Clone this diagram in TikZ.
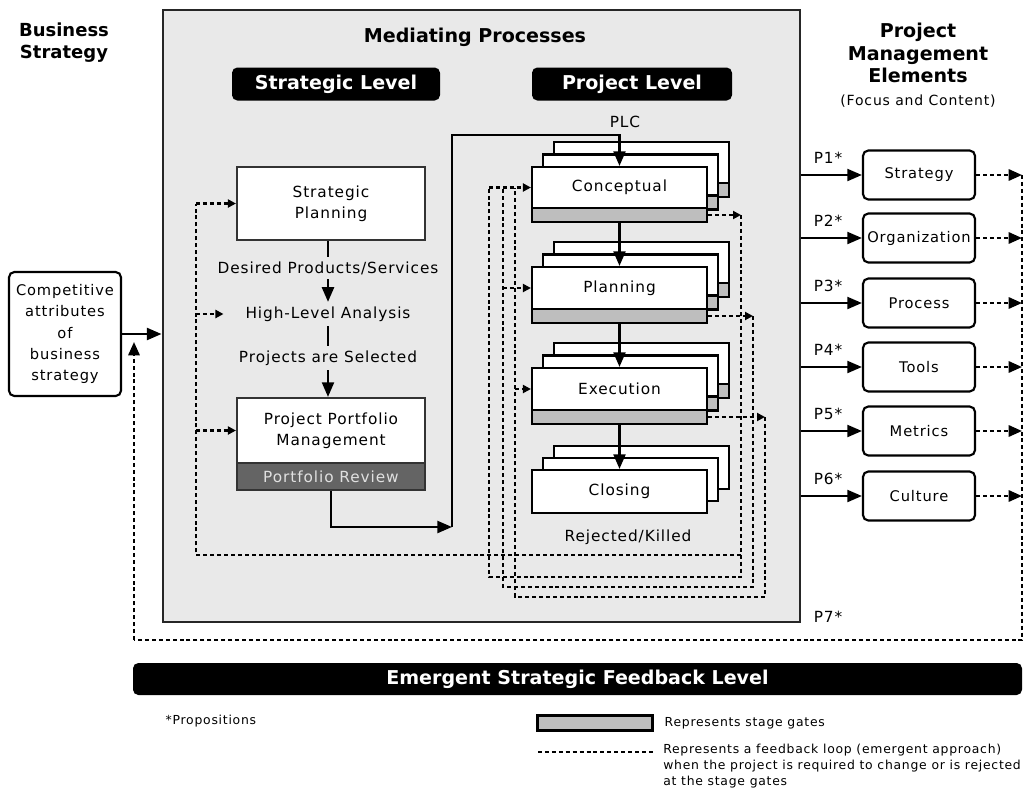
\documentclass[tikz,border=0pt]{standalone}
\usepackage{fontspec}
\setmainfont{DejaVu Sans}[LetterSpace=6]
\newfontfamily\hdfont{DejaVu Sans}
\usetikzlibrary{arrows.meta}
\newcommand\pxu{0.75pt}
\definecolor{medgray}{RGB}{233,233,233}
\definecolor{gategray}{RGB}{190,190,190}
\definecolor{darkband}{RGB}{100,100,100}
\begin{document}
\begin{tikzpicture}[x=0.75pt,y=-0.75pt,
  hd/.style={font=\hdfont\bfseries\fontsize{14.3}{17}\selectfont, align=center},
  txt/.style={font=\fontsize{11.5}{16}\selectfont, align=center},
  small/.style={font=\fontsize{9.3}{12}\selectfont, align=left},
  blackbar/.style={fill=black, rounded corners=4pt, text=white, inner sep=0pt,
    font=\hdfont\bfseries\fontsize{14.3}{17}\selectfont},
  wbox/.style={draw=black, fill=white, line width=1.6pt, inner sep=0pt},
  gate/.style={draw=black, fill=gategray, line width=1.6pt, inner sep=0pt},
  elem/.style={draw=black, fill=white, line width=1.6pt, rounded corners=4pt, inner sep=0pt,
    minimum width=112*\pxu, minimum height=49*\pxu, font=\fontsize{11}{13}\selectfont},
  arr/.style={line width=1.7pt, -{Triangle[length=11pt,width=9pt]}},
  sol/.style={line width=1.7pt},
  fb/.style={line width=1.6pt, dash pattern=on 3pt off 2.2pt},
  fbarr/.style={fb, -{Triangle[length=6pt,width=6pt]}},
  fbbig/.style={fb, -{Triangle[length=10pt,width=8.5pt]}},
]
\useasboundingbox (0,0) rectangle (1026,797);

% ---------- headings ----------
\node[hd, font=\hdfont\bfseries\fontsize{13.5}{16.5}\selectfont] (bs) at (64,43) {Business\\Strategy};
\node[hd] (pme) at (918,53) {Project\\Management\\Elements};
\node[txt, font=\fontsize{10.5}{13}\selectfont] (fc) at (918,101) {(Focus and Content)};

% ---------- main mediating box ----------
\node[draw=black!85, fill=medgray, line width=2.2pt, inner sep=0pt,
  minimum width=637*\pxu, minimum height=612*\pxu] (med) at (481.5,316) {};
\node[hd] (mp) at (475,37) {Mediating Processes};
\node[blackbar, minimum width=208*\pxu, minimum height=33*\pxu] (sl) at (336,84) {Strategic Level};
\node[blackbar, minimum width=200*\pxu, minimum height=33*\pxu] (pl) at (632,84) {Project Level};

% ---------- competitive attributes ----------
\node[draw=black, fill=white, line width=1.6pt, rounded corners=4pt, inner sep=0pt,
  minimum width=112*\pxu, minimum height=124*\pxu, align=center,
  font=\fontsize{11}{16}\selectfont] (comp) at (65,334)
  {Competitive\\attributes\\of\\business\\strategy};
\draw[arr] (comp.east) -- (comp.east -| med.west);

% ---------- strategic level ----------
\node[wbox, draw=black!80, minimum width=188*\pxu, minimum height=73*\pxu, txt] (sp) at (331,203.5) {Strategic\\Planning};
\node[txt] (dps) at (328,268) {Desired Products/Services};
\node[txt] (hla) at (328,314) {High-Level Analysis};
\node[txt] (pas) at (328,358) {Projects are Selected};
\node[wbox, draw=black!80, minimum width=188*\pxu, minimum height=65*\pxu, txt] (ppm) at (331,430.5) {Project Portfolio\\Management};
\node[wbox, draw=black!80, fill=darkband, text=black!12, minimum width=188*\pxu, minimum height=27*\pxu, txt] (ppr) at (331,476.5) {Portfolio Review};

\draw[sol] (sp.south -| dps) -- (dps.north);
\draw[arr] (dps.south) -- (hla.north);
\draw[sol] (hla.south) -- (pas.north);
\draw[arr] (pas.south) -- (pas.south |- ppm.north);

% ---------- project level stacks ----------
\foreach \T in {167,267,368}{
  \draw[line width=1.6pt, fill=white] (554,\T-25) rectangle (729,\T+30);
  \draw[line width=1.6pt, fill=gategray] (554,\T+16) rectangle (729,\T+30);
  \draw[line width=1.6pt, fill=white] (543,\T-12.5) rectangle (718,\T+42.5);
  \draw[line width=1.6pt, fill=gategray] (543,\T+28.5) rectangle (718,\T+42.5);
}
\draw[line width=1.6pt, fill=white] (554,446) rectangle (729,489);
\draw[line width=1.6pt, fill=white] (543,458) rectangle (718,501);

\node[wbox, minimum width=175*\pxu, minimum height=41*\pxu, txt] (conc) at (619.5,187.5) {Conceptual};
\node[gate, minimum width=175*\pxu, minimum height=14*\pxu] (concg) at (619.5,215) {};
\node[wbox, minimum width=175*\pxu, minimum height=42*\pxu, txt] (plan) at (619.5,288) {Planning};
\node[gate, minimum width=175*\pxu, minimum height=14*\pxu] (plang) at (619.5,316) {};
\node[wbox, minimum width=175*\pxu, minimum height=42*\pxu, txt] (exec) at (619.5,389) {Execution};
\node[gate, minimum width=175*\pxu, minimum height=14*\pxu] (execg) at (619.5,417) {};
\node[wbox, minimum width=175*\pxu, minimum height=43*\pxu, txt] (clos) at (619.5,491.5) {Closing};

\node[txt] (plc) at (625,122) {PLC};
\node[txt] (rk) at (628,537) {Rejected/Killed};

\draw[arr] (concg.south) -- (plan.north);
\draw[arr] (plang.south) -- (exec.north);
\draw[arr] (execg.south) -- (clos.north);

% PLC connection from portfolio review
\coordinate (pA) at (452,527);
\coordinate (pB) at (452,135);
\draw[arr] (ppr.south) |- (pA);
\draw[arr] (pA) -- (pB) -| (conc.north);

% ---------- feedback loops ----------
\coordinate (L1) at (489,0);
\coordinate (L2) at (503,0);
\coordinate (L3) at (515,0);
\coordinate (R1) at (741,0);
\coordinate (R2) at (753,0);
\coordinate (R3) at (765,0);
\coordinate (B1) at (0,577);
\coordinate (B2) at (0,587);
\coordinate (B3) at (0,597);

\draw[fbarr] (concg.east) -- (concg.east -| R1);
\draw[fbarr] (plang.east) -- (plang.east -| R2);
\draw[fbarr] (execg.east) -- (execg.east -| R3);

\draw[fb] (concg.east -| R1) -- (R1 |- B1) -- (L1 |- B1) -- (L1 |- conc.west);
\draw[fb] (plang.east -| R2) -- (R2 |- B2) -- (L2 |- B2) -- (L2 |- conc.west);
\draw[fb] (execg.east -| R3) -- (R3 |- B3) -- (L3 |- B3) -- (L3 |- conc.west);

\draw[fbarr] (L1 |- conc.west) -- (conc.west);
\draw[fbarr] (L2 |- plan.west) -- (plan.west);
\draw[fbarr] (L3 |- exec.west) -- (exec.west);

% strategic feedback
\coordinate (sfx) at (196,0);
\coordinate (sfy) at (0,555);
\draw[fb] (R1 |- sfy) -- (sfx |- sfy) -- (sfx |- sp.west);
\draw[fbarr] (sfx |- sp.west) -- (sp.west);
\draw[fbarr] (sfx |- hla.west) -- ([xshift=-13pt]hla.west);
\draw[fbarr] (sfx |- ppm.west) -- (ppm.west);

% ---------- project management elements ----------
\node[elem] (e1) at (919,175) {Strategy};
\node[elem] (e2) at (919,238) {Organization};
\node[elem] (e3) at (919,303) {Process};
\node[elem] (e4) at (919,367) {Tools};
\node[elem] (e5) at (919,431) {Metrics};
\node[elem] (e6) at (919,496) {Culture};

\coordinate (Rr) at (1022,0);
\coordinate (fbB) at (134,640);

\foreach \i in {1,...,6}{
  \draw[arr] (e\i.west -| med.east) -- (e\i.west);
  \draw[fbbig] (e\i.east) -- (e\i.east -| Rr);
  \node[txt] (p\i) at ([yshift=13pt]e\i.west -| 828,0) {P\i*};
}
\node[txt] (p7) at (828,617) {P7*};

\draw[fb] (e1.east -| Rr) -- (Rr |- fbB) -- (fbB);
\draw[fbbig] (fbB) -- ([yshift=-6pt]fbB |- comp.east);

% ---------- bottom bar and legend ----------
\node[blackbar, minimum width=889*\pxu, minimum height=32*\pxu] (esf) at (577.5,679) {Emergent Strategic Feedback Level};

\node[small, anchor=west] (prop) at (161,721) {*Propositions};
\node[gate, line width=2pt, minimum width=115*\pxu, minimum height=15*\pxu] (lg) at (595,723) {};
\node[small, anchor=west] (lgt) at (660,723) {Represents stage gates};
\coordinate (ld1) at (538,752);
\coordinate (ld2) at (653,752);
\draw[fb] (ld1) -- (ld2);
\node[small, anchor=north west, inner sep=0pt] (lft) at (663,744) {Represents a feedback loop (emergent approach)\\when the project is required to change or is rejected\\at the stage gates};
\end{tikzpicture}
\end{document}
